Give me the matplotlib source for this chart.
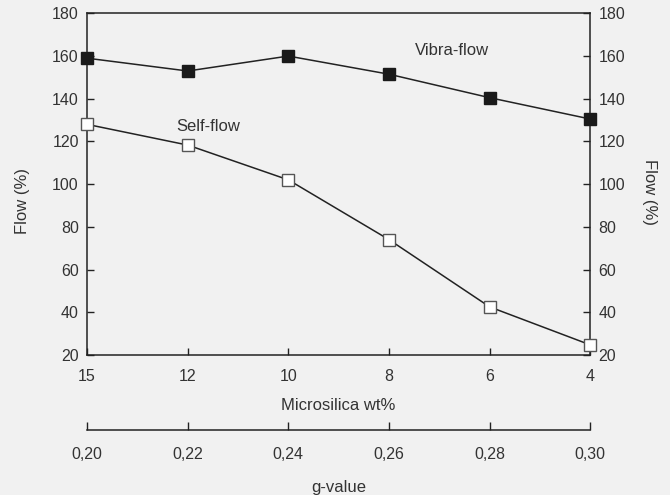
import matplotlib.pyplot as plt
import numpy as np

plt.rcParams["font.family"] = ["Liberation Sans", "DejaVu Sans"]
plt.rcParams["font.size"] = 11.5
bg = "#f1f1f1"
text_col = "#333333"
line_col = "#222222"

microsilica = ["15", "12", "10", "8", "6", "4"]
g_value = ["0,20", "0,22", "0,24", "0,26", "0,28", "0,30"]
vibra_flow = [159, 153, 160, 151.5, 140.5, 130.5]
self_flow = [128, 118.3, 102, 74, 42.5, 24.7]

x = np.arange(len(microsilica))

fig = plt.figure(figsize=(6.7, 4.95), dpi=100, facecolor=bg)
ax = fig.add_subplot(111)
fig.subplots_adjust(left=0.130, right=0.881, top=0.973, bottom=0.283)
ax.set_facecolor(bg)

ax.plot(x, vibra_flow, color=line_col, lw=1.1, marker="s", ms=8,
        mfc="#1a1a1a", mec="#1a1a1a", clip_on=False, zorder=3)
ax.plot(x, self_flow, color=line_col, lw=1.1, marker="s", ms=8,
        mfc="white", mec="#555555", mew=1.0, clip_on=False, zorder=3)

ax.set_xlim(x[0], x[-1])
ax.set_ylim(20, 180)
ax.set_yticks(range(20, 181, 20))
ax.set_xticks(x)
ax.set_xticklabels(microsilica)
ax.tick_params(direction="in", length=5, width=1, color=line_col,
               labelcolor=text_col, labelsize=11.5, pad=6,
               top=False, right=False)
ax.tick_params(axis="x", pad=10)
ax.set_xlabel("Microsilica wt%", color=text_col, fontsize=12, labelpad=10)
ax.set_ylabel("Flow (%)", color=text_col, fontsize=12, va="center")
ax.yaxis.set_label_coords(-0.129, 0.451)
for s in ax.spines.values():
    s.set_color(line_col)
    s.set_linewidth(1.1)

ax.text(3.26, 162.5, "Vibra-flow", color=text_col, fontsize=12, va="center")
ax.text(0.885, 126.8, "Self-flow", color=text_col, fontsize=12, va="center")

# right axis
axr = ax.twinx()
axr.set_ylim(ax.get_ylim())
axr.set_yticks(range(20, 181, 20))
axr.tick_params(axis="y", direction="in", length=5, width=1, color=line_col,
                labelcolor=text_col, labelsize=11.5, pad=6)
axr.tick_params(axis="x", top=False, bottom=False, labeltop=False, labelbottom=False)
axr.set_ylabel("Flow (%)", color=text_col, rotation=270, fontsize=12, va="center")
axr.yaxis.set_label_coords(1.117, 0.477)
for s in axr.spines.values():
    s.set_visible(False)

# secondary g-value axis
axg = ax.twiny()
axg.set_xlim(ax.get_xlim())
axg.set_xticks(x)
axg.set_xticklabels(g_value)
axg.xaxis.set_ticks_position("bottom")
axg.xaxis.set_label_position("bottom")
axg.spines["bottom"].set_position(("outward", 54))
for name, s in axg.spines.items():
    s.set_visible(name == "bottom")
axg.spines["bottom"].set_color(line_col)
axg.spines["bottom"].set_linewidth(1.1)
axg.tick_params(axis="x", direction="in", length=6, width=1, color=line_col,
                labelcolor=text_col, labelsize=11.5, pad=12, top=False)
axg.tick_params(axis="y", left=False, right=False, labelleft=False, labelright=False)
axg.set_xlabel("g-value", color=text_col, fontsize=12, labelpad=13)

fig.savefig("out.png", dpi=100, facecolor=bg)
